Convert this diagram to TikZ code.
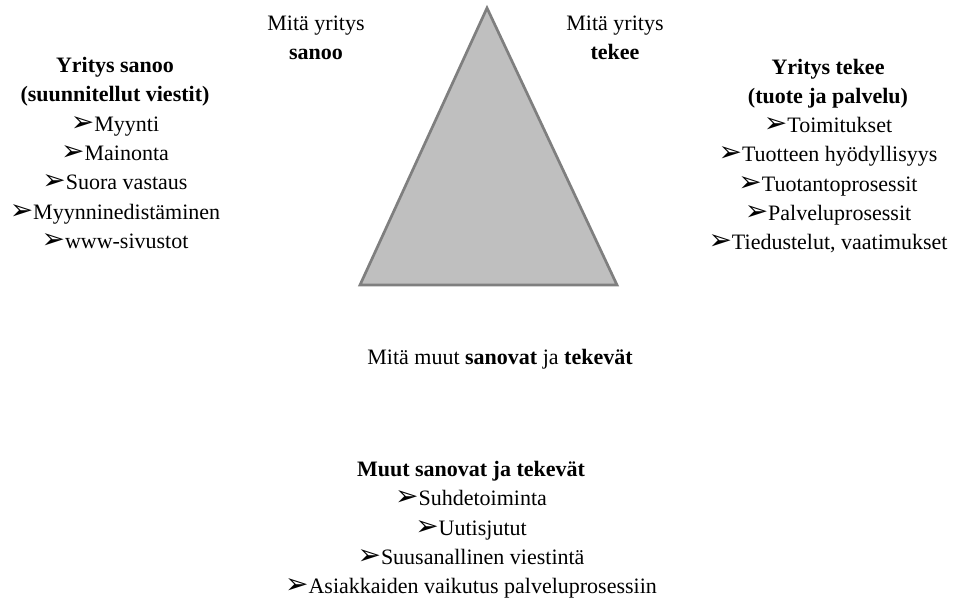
\documentclass[tikz,border=0pt]{standalone}
\usepackage{fontspec}
\setmainfont{Liberation Serif}
\newfontfamily\symfont{DejaVu Sans}
% arrowhead bullet in front of each list item
\newcommand{\bul}{{\symfont\fontsize{28}{28}\selectfont ➢}}
\definecolor{trifill}{HTML}{BFBFBF}
\definecolor{triline}{HTML}{7F7F7F}
\begin{document}
\begin{tikzpicture}[x=1pt,y=-1pt,
  txt/.style={inner sep=0pt, align=center, font=\fontsize{22}{29.3}\selectfont},
  tri/.style={fill=trifill, draw=triline, line width=2.7pt, line join=miter}]
\useasboundingbox (0,0) rectangle (953,601);

% central triangle
\coordinate (apex) at (487,8);
\coordinate (bl) at (360,285);
\coordinate (br) at (617,285);
\draw[tri] (apex) -- (br) -- (bl) -- cycle;

% corner captions
\node[txt] (says) at (316,38) {Mitä yritys\\\textbf{sanoo}};
\node[txt] (does) at (615,38) {Mitä yritys\\\textbf{tekee}};
\node[txt] (others) at (500,359) {Mitä muut \textbf{sanovat} ja \textbf{tekevät}};

% lists
\node[txt] (leftlist) at (115,153) {\textbf{Yritys sanoo}\\\textbf{(suunnitellut viestit)}\\
  \bul Myynti\\\bul Mainonta\\\bul Suora vastaus\\\bul Myynninedistäminen\\\bul www-sivustot};
\node[txt] (rightlist) at (828,156) {\textbf{Yritys tekee}\\\textbf{(tuote ja palvelu)}\\
  \bul Toimitukset\\\bul Tuotteen hyödyllisyys\\\bul Tuotantoprosessit\\\bul Palveluprosessit\\\bul Tiedustelut, vaatimukset};
\node[txt] (bottomlist) at (471,530) {\textbf{Muut sanovat ja tekevät}\\
  \bul Suhdetoiminta\\\bul Uutisjutut\\\bul Suusanallinen viestintä\\\bul Asiakkaiden vaikutus palveluprosessiin};
\end{tikzpicture}
\end{document}
